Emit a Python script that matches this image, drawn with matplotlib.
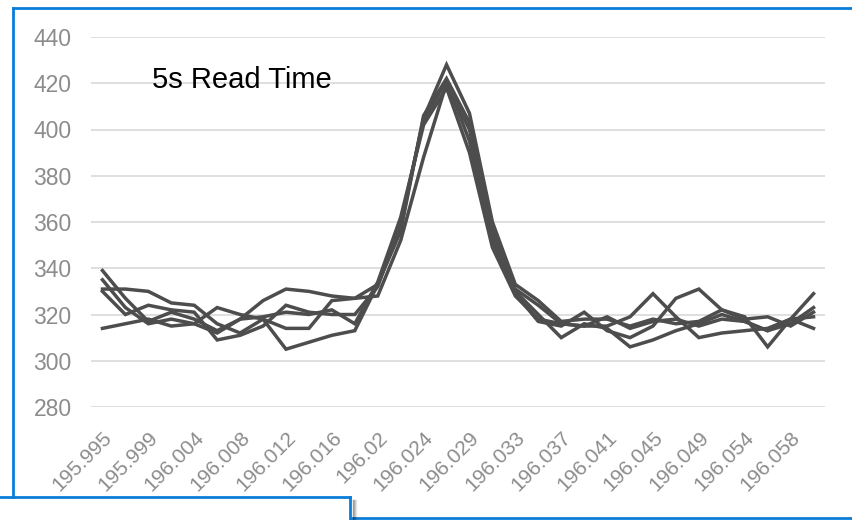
import matplotlib
matplotlib.use("Agg")
import matplotlib.pyplot as plt
from matplotlib.lines import Line2D

categories = ["195.995", "195.997", "195.999", "196.001", "196.004", "196.006",
              "196.008", "196.010", "196.012", "196.014", "196.016", "196.018",
              "196.02", "196.022", "196.024", "196.026", "196.029", "196.031",
              "196.033", "196.035", "196.037", "196.039", "196.041", "196.043",
              "196.045", "196.047", "196.049", "196.051", "196.054", "196.056",
              "196.058", "196.060"]

series_1 = [339, 327, 317, 321, 318, 313, 318, 326, 331, 330, 328, 327, 333, 358, 405, 428,
            407, 360, 333, 326, 317, 318, 318, 315, 318, 316, 317, 322, 319, 306, 318, 329]
series_2 = [335, 323, 316, 318, 316, 323, 320, 318, 305, 308, 311, 313, 333, 356, 406, 422,
            403, 357, 330, 320, 310, 316, 314, 306, 309, 313, 316, 320, 317, 313, 316, 323]
series_3 = [331, 331, 330, 325, 324, 316, 312, 318, 314, 314, 326, 327, 328, 352, 388, 420,
            400, 355, 331, 324, 316, 315, 315, 319, 329, 319, 310, 312, 313, 314, 318, 314]
series_4 = [330, 320, 324, 322, 321, 309, 311, 315, 324, 321, 320, 320, 332, 360, 404, 421,
            395, 352, 329, 317, 315, 321, 313, 310, 315, 327, 331, 322, 318, 319, 315, 321]
series_5 = [314, 316, 318, 315, 316, 312, 318, 319, 321, 320, 322, 316, 334, 362, 402, 418,
            390, 349, 328, 318, 316, 315, 319, 314, 317, 318, 315, 318, 317, 313, 318, 319]

y_ticks = [280, 300, 320, 340, 360, 380, 400, 420, 440]
title_text = "5s Read Time"

plt.rcParams['font.family'] = ['Liberation Sans', 'DejaVu Sans']

W, H = 852, 520
fig = plt.figure(figsize=(W / 100, H / 100), dpi=100)
fig.patch.set_facecolor('white')

ax = fig.add_axes([91 / W, 1 - 407 / H, (825 - 91) / W, (407 - 37) / H])
x = list(range(len(categories)))
for s in [series_1, series_2, series_3, series_4, series_5]:
    ax.plot(x, s, color='#4d4d4d', linewidth=2.5, solid_joinstyle='miter', zorder=3)

ax.set_xlim(-0.5, len(categories) - 0.5)
ax.set_ylim(280, 440)
ax.set_yticks(y_ticks)
ax.set_yticklabels([str(v) for v in y_ticks])
ax.set_xticks(x[::2])
ax.set_xticklabels(categories[::2], rotation=45, ha='right', rotation_mode='anchor')
ax.grid(axis='y', color='#d9d9d9', linewidth=1.2)
ax.set_axisbelow(True)
for sp in ax.spines.values():
    sp.set_visible(False)
ax.tick_params(axis='y', length=0, pad=14, labelsize=16.5, labelcolor='#8c8c8c')
ax.tick_params(axis='x', length=0, pad=15, labelsize=15, labelcolor='#8c8c8c')

fig.text(152 / W, 1 - 80 / H, title_text, fontsize=21, color='black', va='center', ha='left')

blue = '#0a7dd8'

def fline(xs, ys, **kw):
    fig.add_artist(Line2D([v / W for v in xs], [1 - v / H for v in ys],
                          transform=fig.transFigure, **kw))

# outer chart frame
fline([13, W], [8, 8], color=blue, linewidth=2)
fline([13, 13], [8, 497], color=blue, linewidth=2)
fline([352, W], [518, 518], color=blue, linewidth=2)
# overlapping panel at bottom-left with shadow
for i, a in enumerate([0.35, 0.25, 0.15, 0.08]):
    fline([352 + i + 1, 352 + i + 1], [500, 520], color='black', alpha=a, linewidth=1)
fline([0, 350], [497, 497], color=blue, linewidth=2)
fline([350, 350], [497, 520], color=blue, linewidth=2)

fig.savefig('out.png', dpi=100, facecolor='white')
